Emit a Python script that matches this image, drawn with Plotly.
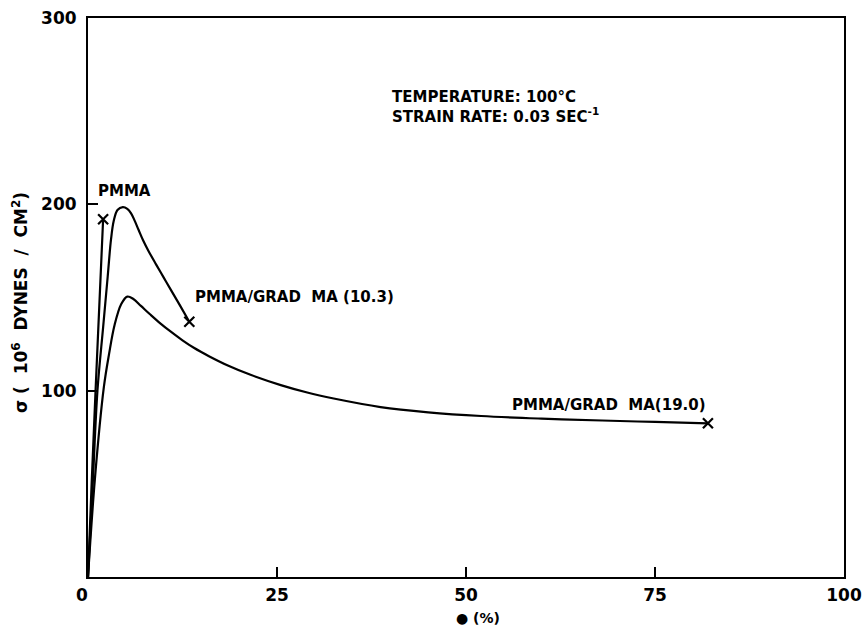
import plotly.graph_objects as go

# PMMA
pmma_x = [0.0, 0.5, 1.0, 1.5, 2.0]
pmma_y = [0, 52, 100, 146, 192]

# PMMA/GRAD MA (10.3)
g103_x = [0.0, 0.65, 1.25, 2.0, 2.6, 3.04, 3.4, 3.9, 4.6, 5.2, 5.7, 6.2, 6.7, 7.3, 8.0,
          9.0, 10.0, 11.0, 12.2, 13.4]
g103_y = [0, 52, 100, 134, 161, 181, 191, 197, 198.5, 197.6, 195.2, 191.0, 186.2, 180.6,
          175.0, 167.8, 160.8, 153.8, 145.5, 137]

# PMMA/GRAD MA (19.0)
g190_x = [0.0, 0.9, 2.1, 2.8, 3.5, 4.4, 5.2, 6.0, 7.0, 8.2, 9.6, 11.0, 12.5, 14.0, 16.0,
          18.5, 21.5, 25.5, 29, 32.5, 38.7, 45, 52, 60, 68, 75, 82]
g190_y = [0, 52, 102, 120, 135, 146.5, 150.5, 149.2, 145.5, 141.0, 136.0, 131.5, 127.0,
          123.0, 118.5, 113.5, 108.5, 103.0, 99, 95.8, 91.2, 88.4, 86.4, 85, 84, 83.2, 82.5]

x_ticks = [25, 50, 75, 100]
x_ticktext = ["25", "50", "75", "100"]
y_ticks = [100, 200, 300]
y_ticktext = ["100", "200", "300"]

FONT = "DejaVu Sans"
fig = go.Figure()

for xs, ys in [(pmma_x, pmma_y), (g103_x, g103_y), (g190_x, g190_y)]:
    fig.add_trace(go.Scatter(x=xs, y=ys, mode="lines",
                             line=dict(color="black", width=2.2, shape="spline", smoothing=1.0),
                             showlegend=False, hoverinfo="skip"))
    fig.add_trace(go.Scatter(x=[xs[-1]], y=[ys[-1]], mode="markers",
                             marker=dict(symbol="x-thin-open", size=10, color="black",
                                         line=dict(color="black", width=2.2)),
                             showlegend=False, hoverinfo="skip"))

ann_font = dict(family=FONT, size=15, color="black", weight="bold")
fig.add_annotation(x=1.1, y=207, text="PMMA", showarrow=False, xanchor="left", font=ann_font)
fig.add_annotation(x=13.9, y=150.5, text="PMMA/GRAD  MA (10.3)", showarrow=False,
                   xanchor="left", font=ann_font)
fig.add_annotation(x=55.8, y=92.5, text="PMMA/GRAD  MA(19.0)", showarrow=False,
                   xanchor="left", font=ann_font)
fig.add_annotation(x=39.9, y=252, text="TEMPERATURE: 100°C<br>STRAIN RATE: 0.03 SEC<sup>-1</sup>",
                   showarrow=False, xanchor="left", yanchor="middle", align="left", font=ann_font)
# corner zero label
fig.add_annotation(xref="paper", yref="paper", x=-0.018, y=0, yshift=-18, yanchor="middle",
                   text="0", showarrow=False,
                   font=dict(family=FONT, size=17, color="black", weight="bold"))
# x-axis title
fig.add_annotation(xref="paper", yref="paper", x=0.516, y=0, yshift=-41, yanchor="middle",
                   text="● (%)", showarrow=False,
                   font=dict(family=FONT, size=14, color="black", weight="bold"))
# y-axis title
fig.add_annotation(xref="paper", yref="paper", x=0, xshift=-68, y=0.49, xanchor="center",
                   yanchor="middle",
                   text="σ (  10<sup>6</sup>  DYNES  /  CM<sup>2</sup>)", textangle=-90,
                   showarrow=False, font=dict(family=FONT, size=17, color="black", weight="bold"))

axis_common = dict(showgrid=False, zeroline=False, showline=True, linecolor="black",
                   linewidth=2, mirror=True, ticks="inside", ticklen=10, tickwidth=2,
                   tickcolor="black", automargin=False,
                   tickfont=dict(family=FONT, size=17, color="black", weight="bold"))

fig.update_xaxes(range=[0, 100], tickvals=x_ticks, ticktext=x_ticktext,
                 ticklabelstandoff=2, **axis_common)
fig.update_yaxes(range=[0, 300], tickvals=y_ticks, ticktext=y_ticktext,
                 ticklabelstandoff=6, **axis_common)

fig.update_layout(width=865, height=629, plot_bgcolor="white", paper_bgcolor="white",
                  margin=dict(l=88, r=21, t=18, b=52), font=dict(family=FONT))

fig.write_html("out.html", config={"displayModeBar": False},
               post_script="document.body.style.margin='0px';")
